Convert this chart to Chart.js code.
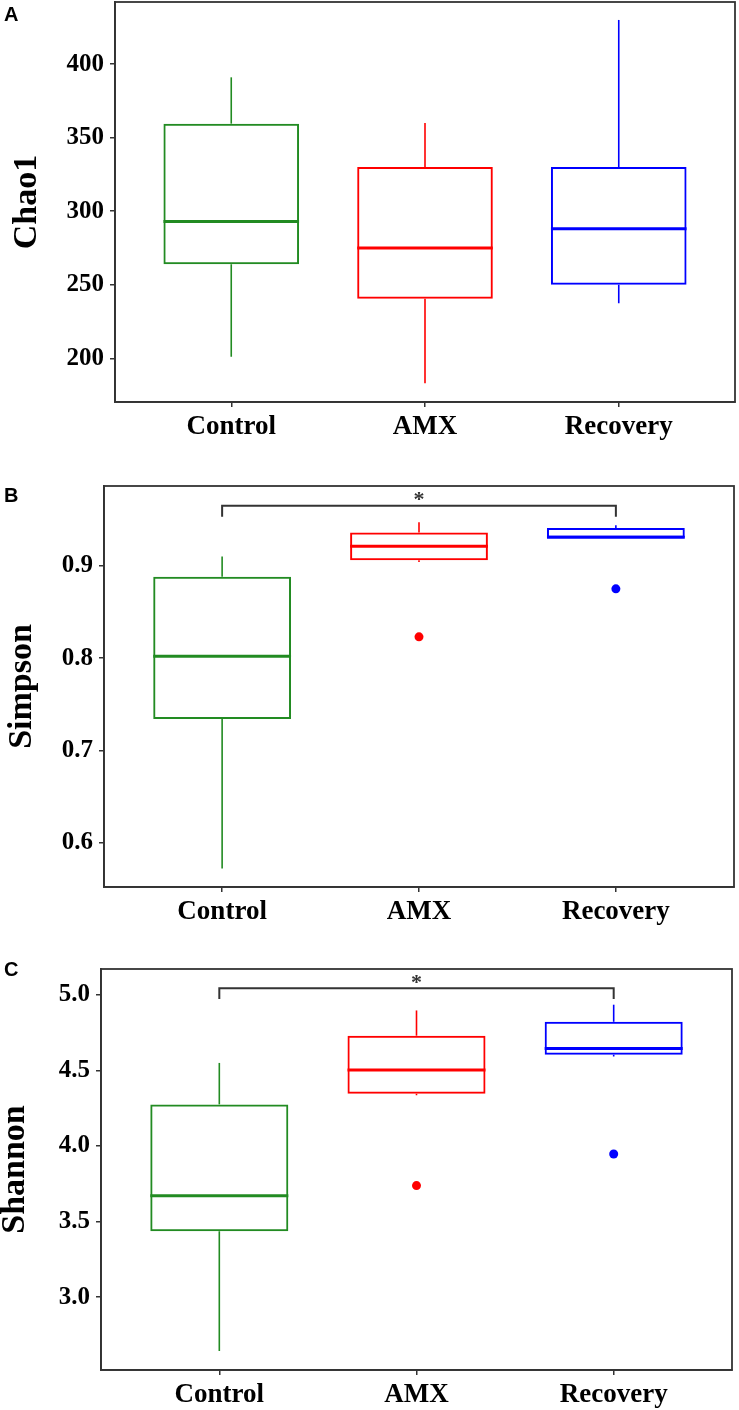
<!DOCTYPE html>
<html>
<head>
<meta charset="utf-8">
<script src="https://cdn.jsdelivr.net/npm/chart.js@4.4.1/dist/chart.umd.min.js"></script>
<style>
  body { margin: 0; background: #fff; }
  #wrap { position: relative; width: 739px; height: 1410px; }
  canvas { position: absolute; left: 0; }
  .lbl { position: absolute; left: 4px; font: bold 20px "Liberation Sans", Arial, sans-serif; line-height: 1; color: #000; }
</style>
</head>
<body>
<div id="wrap">
  <canvas id="chartA" width="739" height="470" style="top:0"></canvas>
  <canvas id="chartB" width="739" height="470" style="top:470px"></canvas>
  <canvas id="chartC" width="739" height="470" style="top:940px"></canvas>
  <div class="lbl" style="top:4px">A</div>
  <div class="lbl" style="top:485px">B</div>
  <div class="lbl" style="top:959px">C</div>
</div>
<script>
const categories = ["Control", "AMX", "Recovery"];
const boxColors = ["#228b22", "#ff0000", "#0000ff"];

// Chao1
const chaoMin = [201, 183, 237.5];
const chaoQ1 = [264, 240.5, 250];
const chaoMedian = [293, 275, 288];
const chaoQ3 = [359.5, 330, 330];
const chaoMax = [391, 360, 430];
const chaoOutliers = [null, null, null];
const chaoTicks = [200, 250, 300, 350, 400];
const chaoTickLabels = ["200", "250", "300", "350", "400"];

// Simpson
const simpsonMin = [0.572, 0.904, 0.930];
const simpsonQ1 = [0.734, 0.906, 0.9303];
const simpsonMedian = [0.802, 0.921, 0.931];
const simpsonQ3 = [0.888, 0.936, 0.941];
const simpsonMax = [0.910, 0.947, 0.944];
const simpsonOutliers = [null, 0.823, 0.875];
const simpsonTicks = [0.6, 0.7, 0.8, 0.9];
const simpsonTickLabels = ["0.6", "0.7", "0.8", "0.9"];
const simpsonBracket = [0.953, 0.965]; // foot, top
const simpsonStar = 0.976;

// Shannon
const shannonMin = [2.645, 4.335, 4.592];
const shannonQ1 = [3.436, 4.346, 4.603];
const shannonMedian = [3.671, 4.502, 4.645];
const shannonQ3 = [4.275, 4.729, 4.821];
const shannonMax = [4.549, 4.896, 4.934];
const shannonOutliers = [null, 3.738, 3.947];
const shannonTicks = [3.0, 3.5, 4.0, 4.5, 5.0];
const shannonTickLabels = ["3.0", "3.5", "4.0", "4.5", "5.0"];
const shannonBracket = [4.971, 5.042];
const shannonStar = 5.106;

const axisColor = "#333";
const halfBox = 0.35;
const serif = '"Liberation Serif", "Times New Roman", serif';

// frame around plot + significance star
const framePlugin = {
  id: "frame",
  afterDraw(chart, args, opts) {
    const a = chart.chartArea, ctx = chart.ctx;
    ctx.save();
    ctx.strokeStyle = axisColor;
    ctx.lineWidth = 1.8;
    ctx.strokeRect(a.left, a.top, a.right - a.left, a.bottom - a.top);
    if (opts.star != null) {
      ctx.fillStyle = axisColor;
      ctx.font = "bold 22px " + serif;
      ctx.textAlign = "center";
      ctx.textBaseline = "alphabetic";
      const x = chart.scales.x.getPixelForValue(2);
      const y = chart.scales.y.getPixelForValue(opts.star);
      ctx.fillText("*", x, y + 0.47 * 22);
    }
    ctx.restore();
  }
};

function lineSet(pts, color, width) {
  return {
    type: "line", data: pts, borderColor: color, borderWidth: width,
    pointRadius: 0, fill: false, tension: 0, borderCapStyle: "butt"
  };
}

function makeChart(id, cfg) {
  const datasets = [];
  datasets.push({
    type: "bar",
    data: categories.map((c, i) => ({ x: i + 1, y: [cfg.q1[i], cfg.q3[i]] })),
    borderColor: boxColors,
    backgroundColor: "rgba(0,0,0,0)",
    borderWidth: 2,
    borderSkipped: false,
    barPercentage: 0.7,
    categoryPercentage: 1
  });
  categories.forEach((c, i) => {
    const x = i + 1;
    datasets.push(lineSet([{ x: x - halfBox, y: cfg.median[i] }, { x: x + halfBox, y: cfg.median[i] }], boxColors[i], 3));
    datasets.push(lineSet([{ x: x, y: cfg.q3[i] }, { x: x, y: cfg.max[i] }], boxColors[i], 1.6));
    datasets.push(lineSet([{ x: x, y: cfg.q1[i] }, { x: x, y: cfg.min[i] }], boxColors[i], 1.6));
  });
  const outPts = [], outCols = [];
  cfg.outliers.forEach((v, i) => {
    if (v != null) { outPts.push({ x: i + 1, y: v }); outCols.push(boxColors[i]); }
  });
  if (outPts.length) {
    datasets.push({
      type: "scatter", data: outPts, pointRadius: 4.5, pointBorderWidth: 0,
      pointBackgroundColor: outCols, pointBorderColor: outCols
    });
  }
  if (cfg.bracket) {
    const [foot, top] = cfg.bracket;
    datasets.push(lineSet([{ x: 1, y: foot }, { x: 1, y: top }, { x: 3, y: top }, { x: 3, y: foot }], axisColor, 2));
  }

  const gridOpts = { drawOnChartArea: false, drawTicks: true, tickLength: 5, color: axisColor, lineWidth: 1.5 };

  return new Chart(document.getElementById(id), {
    type: "bar",
    data: { datasets: datasets },
    options: {
      responsive: false,
      animation: false,
      layout: { padding: { top: cfg.top, right: cfg.right, left: 0, bottom: 0 } },
      plugins: { legend: { display: false }, tooltip: { enabled: false }, frame: { star: cfg.star } },
      scales: {
        x: {
          type: "linear", min: 0.4, max: 3.6, offset: false,
          afterBuildTicks: s => { s.ticks = categories.map((c, i) => ({ value: i + 1 })); },
          ticks: {
            callback: (v, i) => categories[i], autoSkip: false, maxRotation: 0,
            color: "#000", font: { family: serif, weight: "bold", size: 27 }, padding: 4
          },
          grid: Object.assign({ offset: false }, gridOpts),
          border: { display: true, color: axisColor, width: 1.8 },
          afterFit: s => { s.height = cfg.bottom; s.paddingLeft = 0; s.paddingRight = 0; }
        },
        y: {
          type: "linear", min: cfg.yMin, max: cfg.yMax, beginAtZero: false,
          afterBuildTicks: s => { s.ticks = cfg.ticks.map(v => ({ value: v })); },
          ticks: {
            callback: (v, i) => cfg.tickLabels[i], autoSkip: false,
            color: "#000", font: { family: serif, weight: "bold", size: 25 }, padding: 6
          },
          grid: gridOpts,
          border: { display: true, color: axisColor, width: 1.8 },
          title: {
            display: true, text: cfg.title, color: "#000",
            font: { family: serif, weight: "bold", size: 34, lineHeight: 1 },
            padding: { top: cfg.titlePad, bottom: 0 }
          },
          afterFit: s => { s.width = cfg.left; s.paddingTop = 0; s.paddingBottom = 0; }
        }
      }
    },
    plugins: [framePlugin]
  });
}

makeChart("chartA", {
  title: "Chao1", min: chaoMin, q1: chaoQ1, median: chaoMedian, q3: chaoQ3, max: chaoMax,
  outliers: chaoOutliers, ticks: chaoTicks, tickLabels: chaoTickLabels,
  yMin: 170.3, yMax: 442.2, left: 115, top: 2, right: 4, bottom: 68, titlePad: 10
});
makeChart("chartB", {
  title: "Simpson", min: simpsonMin, q1: simpsonQ1, median: simpsonMedian, q3: simpsonQ3, max: simpsonMax,
  outliers: simpsonOutliers, ticks: simpsonTicks, tickLabels: simpsonTickLabels,
  bracket: simpsonBracket, star: simpsonStar,
  yMin: 0.552, yMax: 0.9864, left: 104, top: 16, right: 5, bottom: 53, titlePad: 5
});
makeChart("chartC", {
  title: "Shannon", min: shannonMin, q1: shannonQ1, median: shannonMedian, q3: shannonQ3, max: shannonMax,
  outliers: shannonOutliers, ticks: shannonTicks, tickLabels: shannonTickLabels,
  bracket: shannonBracket, star: shannonStar,
  yMin: 2.519, yMax: 5.17, left: 101, top: 29, right: 7, bottom: 40, titlePad: -2
});
</script>
</body>
</html>
